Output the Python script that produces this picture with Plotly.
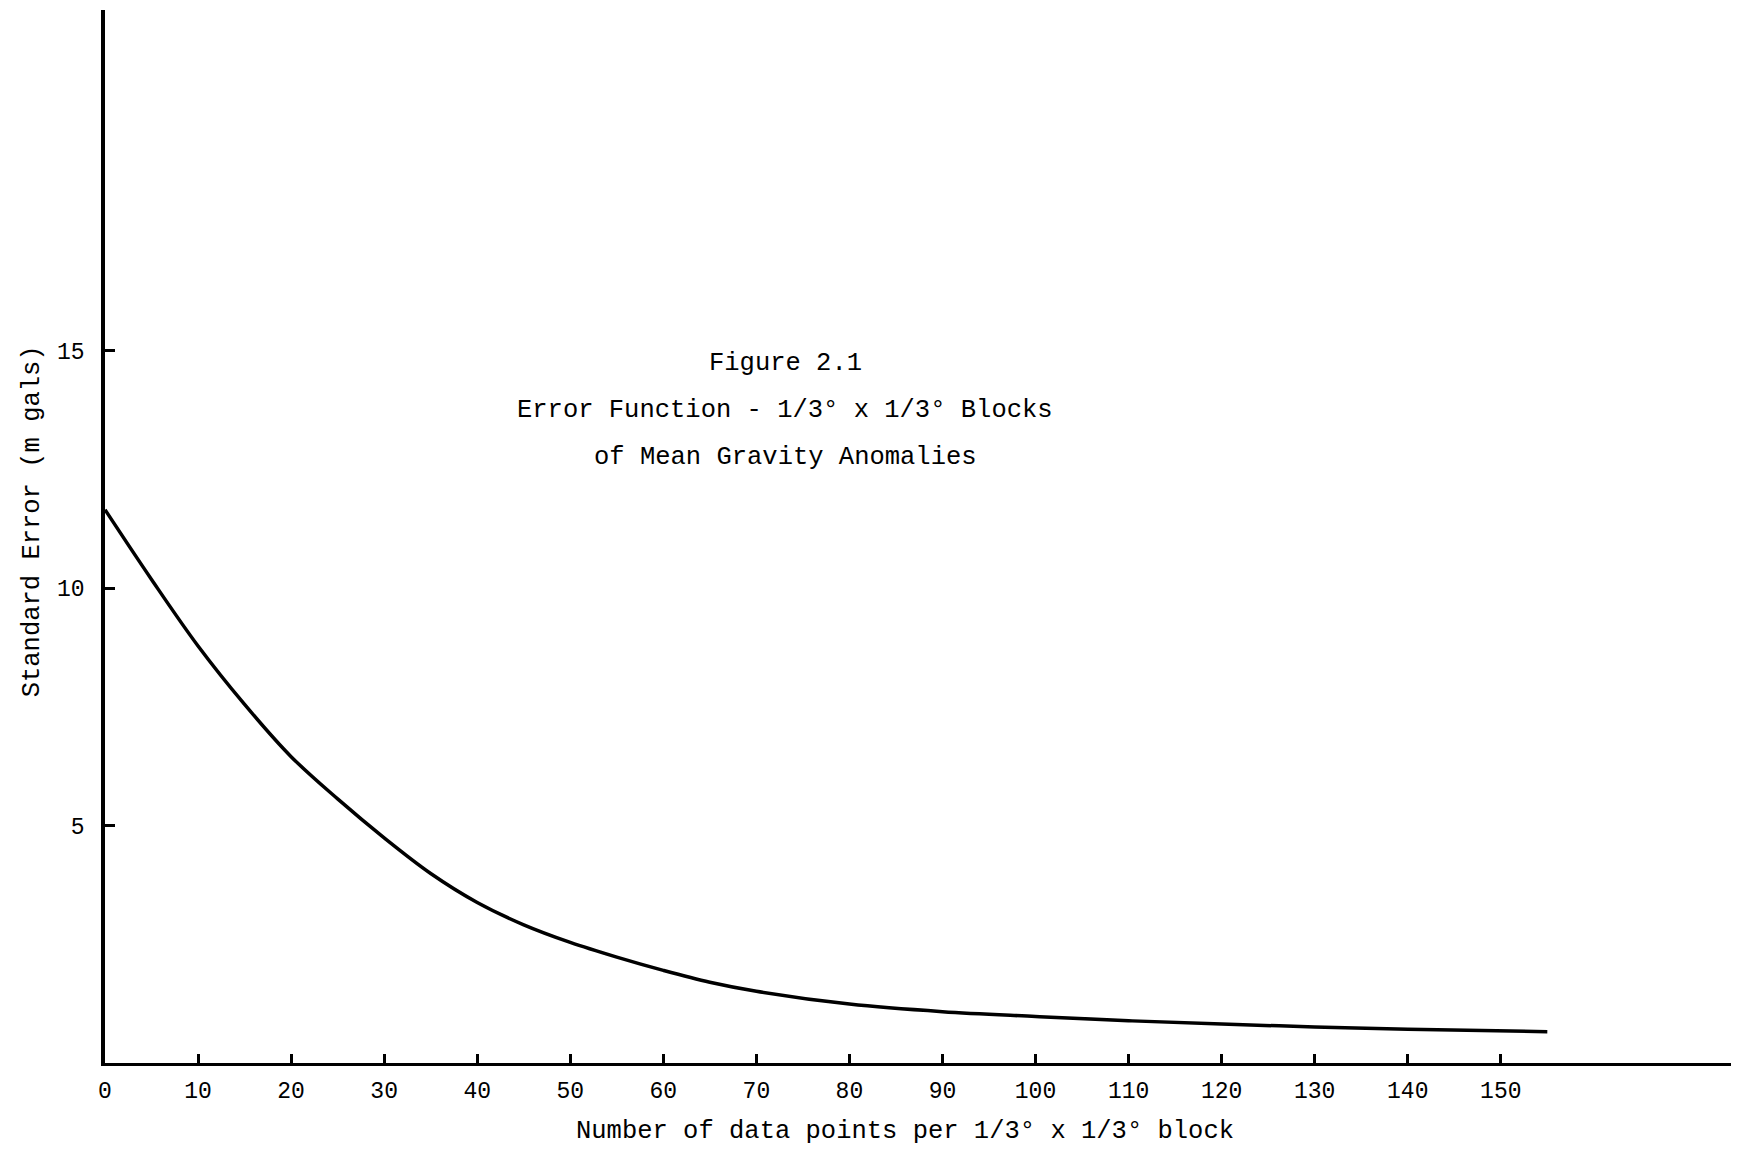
import plotly.graph_objects as go

# Data
n_points = [0, 5, 10, 15, 20, 25, 30, 35, 40, 45, 50, 55, 60, 65, 70,
            80, 90, 100, 110, 120, 130, 140, 155]
std_error = [11.65, 10.18, 8.78, 7.55, 6.45, 5.56, 4.74, 3.99, 3.38, 2.91, 2.54,
             2.23, 1.95, 1.70, 1.51, 1.24, 1.08, 0.98, 0.89, 0.82, 0.76, 0.71, 0.66]

x_ticks = list(range(0, 160, 10))
y_ticks = [5, 10, 15]
title_lines = ["Figure 2.1",
               "Error Function - 1/3° x 1/3° Blocks",
               "of Mean Gravity Anomalies"]
y_title = "Standard Error (m gals)"
x_title = "Number of data points per 1/3° x 1/3° block"

FONT = "Liberation Mono"
TSIZE = 25.5

fig = go.Figure()
fig.add_trace(go.Scatter(
    x=n_points, y=std_error, mode="lines",
    line=dict(color="black", width=3.5, shape="spline", smoothing=1.0),
    showlegend=False, hoverinfo="skip"))

title_y = [14.73, 13.73, 12.74]
for txt, yy in zip(title_lines, title_y):
    fig.add_annotation(x=73.1, y=yy, xref="x", yref="y", text=txt,
                       showarrow=False, xanchor="center", yanchor="middle",
                       font=dict(family=FONT, size=TSIZE, color="black"))

# axis titles placed as annotations
fig.add_annotation(x=-0.0445, y=0.5147, xref="paper", yref="paper",
                   text=y_title, textangle=-90, showarrow=False,
                   xanchor="center", yanchor="middle",
                   font=dict(family=FONT, size=TSIZE, color="black"))
fig.add_annotation(x=0.4896, y=-0.0646, xref="paper", yref="paper",
                   text=x_title, showarrow=False,
                   xanchor="center", yanchor="middle",
                   font=dict(family=FONT, size=TSIZE, color="black"))

fig.update_layout(
    width=1731, height=1141,
    margin=dict(l=97, r=0, t=2, b=86),
    paper_bgcolor="white", plot_bgcolor="white",
    font=dict(family=FONT, color="black"),
)
fig.update_xaxes(
    range=[0, 175.6], tickvals=x_ticks, ticktext=[str(v) for v in x_ticks],
    ticks="inside", ticklen=9, tickwidth=2.5, tickcolor="black",
    showline=True, linecolor="black", linewidth=3,
    showgrid=False, zeroline=False,
    tickfont=dict(family=FONT, size=23, color="black"),
    ticklabelstandoff=4,
)
fig.update_yaxes(
    range=[0, 22.17], tickvals=y_ticks, ticktext=[str(v) for v in y_ticks],
    ticks="inside", ticklen=10, tickwidth=2.5, tickcolor="black",
    showline=True, linecolor="black", linewidth=3.5,
    showgrid=False, zeroline=False,
    tickfont=dict(family=FONT, size=23, color="black"),
    ticklabelstandoff=12,
)

fig.write_html("out.html")
